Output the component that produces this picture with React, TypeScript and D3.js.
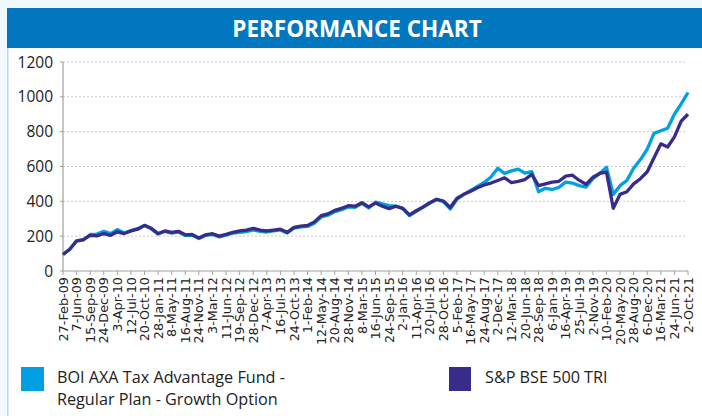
import React from 'react';
import * as d3 from 'd3';

// category labels shown on the x axis (every 99th trading-day point)
const tickLabels = [
  '27-Feb-09', '7-Jun-09', '15-Sep-09', '24-Dec-09', '3-Apr-10', '12-Jul-10', '20-Oct-10',
  '28-Jan-11', '8-May-11', '16-Aug-11', '24-Nov-11', '3-Mar-12', '11-Jun-12', '19-Sep-12',
  '28-Dec-12', '7-Apr-13', '16-Jul-13', '24-Oct-13', '1-Feb-14', '12-May-14', '20-Aug-14',
  '28-Nov-14', '8-Mar-15', '16-Jun-15', '24-Sep-15', '2-Jan-16', '11-Apr-16', '20-Jul-16',
  '28-Oct-16', '5-Feb-17', '16-May-17', '24-Aug-17', '2-Dec-17', '12-Mar-18', '20-Jun-18',
  '28-Sep-18', '6-Jan-19', '16-Apr-19', '25-Jul-19', '2-Nov-19', '10-Feb-20', '20-May-20',
  '28-Aug-20', '6-Dec-20', '16-Mar-21', '24-Jun-21', '2-Oct-21',
];

// values read every half label interval
const fundValues = [
  95, 125, 175, 178, 210, 212, 228, 215, 238, 218, 232, 243, 262, 242, 212, 228,
  218, 224, 204, 206, 186, 204, 210, 196, 206, 218, 222, 226, 236, 228, 224, 230,
  236, 218, 246, 254, 256, 274, 310, 320, 340, 352, 368, 366, 388, 362, 395, 385,
  375, 372, 360, 318, 342, 365, 390, 410, 398, 356, 412, 440, 462, 485, 508, 540,
  590, 560, 575, 585, 562, 570, 455, 475, 468, 480, 510, 505, 490, 482, 530, 560,
  595, 440, 490, 520, 590, 640, 700, 790, 805, 820, 900, 960, 1025,
];

const indexValues = [
  95, 125, 172, 180, 205, 202, 215, 205, 225, 215, 230, 240, 262, 245, 215, 230,
  222, 228, 208, 210, 190, 208, 214, 200, 210, 222, 230, 235, 245, 235, 230, 235,
  240, 222, 250, 258, 262, 282, 318, 328, 348, 360, 375, 372, 392, 368, 390, 372,
  358, 372, 360, 322, 346, 368, 392, 412, 402, 365, 418, 440, 458, 478, 494, 505,
  520, 535, 508, 515, 525, 555, 490, 500, 510, 515, 545, 550, 520, 498, 538, 560,
  568, 360, 440, 455, 500, 530, 570, 650, 730, 712, 770, 860, 900,
];

const yTicks = [0, 200, 400, 600, 800, 1000, 1200];

const seriesNames = [
  ['BOI AXA Tax Advantage Fund -', 'Regular Plan - Growth Option'],
  ['S&P BSE 500 TRI'],
];
const colors = ['#00a0e2', '#372c88'];

const W = 702;
const H = 416;
const plot = { left: 63, right: 688, top: 62, bottom: 271 };
const STEPS = 2; // samples per label interval

export default function App() {
  const x = d3.scaleLinear()
    .domain([0, tickLabels.length - 1])
    .range([plot.left, plot.right]);
  const y = d3.scaleLinear().domain([0, 1200]).range([plot.bottom, plot.top]);

  const line = d3.line<number>()
    .x((_, i) => x(i / STEPS))
    .y(d => y(d));

  const font = '"Open Sans", sans-serif';

  return (
    <svg width={W} height={H} style={{ position: 'absolute', left: 0, top: 0, display: 'block' }}>
      <rect x={0} y={0} width={W} height={H} fill="#f1f9fc" />
      <rect x={7} y={48} width={W - 7} height={H - 48} fill="#ffffff" />
      <rect x={7} y={48} width={1.5} height={H - 48} fill="#a9dde9" />
      <rect x={7} y={8} width={W - 7} height={40} fill="#0077bf" />
      <text x={357} y={37} textAnchor="middle" fill="#fff" fontFamily={font}
        fontWeight={700} fontSize={22.5}>PERFORMANCE CHART</text>

      {yTicks.map(t => (
        <g key={t}>
          {t > 0 && (
            <line x1={plot.left} x2={plot.right - 1} y1={y(t)} y2={y(t)}
              stroke="#c9c9c9" strokeDasharray="2,2" strokeWidth={1} />
          )}
          <line x1={plot.left - 3} x2={plot.left} y1={y(t)} y2={y(t)} stroke="#a0a0a0" />
          <text x={53} y={y(t)} dy="0.36em" textAnchor="end" fontFamily={font}
            fontSize={15.5} fill="#222">{t}</text>
        </g>
      ))}

      <line x1={plot.left} x2={plot.left} y1={plot.top} y2={plot.bottom} stroke="#a0a0a0" strokeWidth={1.2} />
      <line x1={plot.left} x2={plot.right} y1={plot.bottom} y2={plot.bottom} stroke="#a0a0a0" strokeWidth={1.2} />

      {tickLabels.map((lab, i) => (
        <g key={lab}>
          <line x1={x(i)} x2={x(i)} y1={plot.bottom} y2={plot.bottom + 4} stroke="#a0a0a0" />
          <text transform={`translate(${x(i)},${plot.bottom + 6}) rotate(-90)`}
            dy="0.36em" textAnchor="end" fontFamily='"DejaVu Sans", sans-serif'
            fontSize={12.8} fill="#222">{lab}</text>
        </g>
      ))}

      <path d={line(fundValues) ?? ''} fill="none" stroke={colors[0]} strokeWidth={3.3}
        strokeLinejoin="round" />
      <path d={line(indexValues) ?? ''} fill="none" stroke={colors[1]} strokeWidth={3.3}
        strokeLinejoin="round" />

      <g>
        <rect x={21} y={367} width={23} height={24} fill={colors[0]} />
        {seriesNames[0].map((s, i) => (
          <text key={s} x={57} y={383 + i * 21.5} fontFamily={font} fontSize={16.2} fill="#222">{s}</text>
        ))}
        <rect x={449} y={367} width={22} height={24} fill={colors[1]} />
        {seriesNames[1].map(s => (
          <text key={s} x={485} y={383} fontFamily={font} fontSize={16.2} fill="#222">{s}</text>
        ))}
      </g>
    </svg>
  );
}
